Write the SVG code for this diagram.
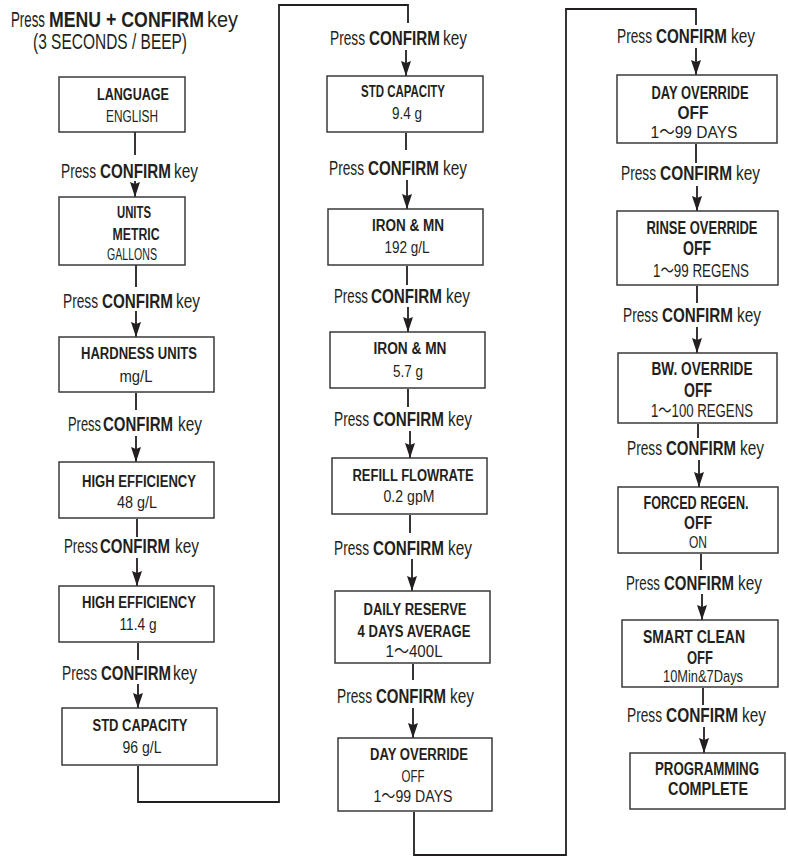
<svg xmlns="http://www.w3.org/2000/svg" width="788" height="858" viewBox="0 0 788 858">
<defs>
<marker id="ah" markerUnits="userSpaceOnUse" markerWidth="15" markerHeight="10" viewBox="0 0 15 10" refX="15" refY="5" orient="auto">
<path d="M0,0 L15,5 L0,10 L2,5 z" fill="#231f20"/>
</marker>
<style>
text{font-family:"Liberation Sans","Noto Sans CJK SC",Arial,sans-serif;fill:#231f20}
.box{fill:#fff;stroke:#3a3a3a;stroke-width:1.5}
.c{text-anchor:middle}
.b{font-weight:700}
.s17{font-size:17px}
.s18{font-size:18px}
.s19{font-size:19px}
.s20{font-size:20px}
.lbl{font-size:20px}
.ttl{font-size:22px}
.ln{fill:none;stroke:#231f20;stroke-width:1.8}
.ar{fill:none;stroke:#231f20;stroke-width:1.8;marker-end:url(#ah)}
</style>
</defs>
<rect width="788" height="858" fill="#fff"/>

<g id="title">
<text class="ttl" transform="translate(11,26.5) scale(.605,1)" textLength="56.2" lengthAdjust="spacingAndGlyphs">Press</text>
<text class="ttl b" transform="translate(49,26.5) scale(.805,1)" textLength="192.5" lengthAdjust="spacingAndGlyphs">MENU + CONFIRM</text>
<text class="ttl" transform="translate(207,26.5) scale(.906,1)" textLength="34.2" lengthAdjust="spacingAndGlyphs">key</text>
<text class="ttl" transform="translate(33,49) scale(.704,1)" textLength="218.8" lengthAdjust="spacingAndGlyphs">(3 SECONDS / BEEP)</text>
</g>

<g id="connectors">
<line class="ln" x1="135" y1="132" x2="135" y2="155"/>
<line class="ar" x1="135" y1="181" x2="135" y2="197"/>
<line class="ln" x1="136" y1="265" x2="136" y2="287"/>
<line class="ar" x1="136" y1="311" x2="136" y2="337"/>
<line class="ln" x1="136" y1="393" x2="136" y2="410"/>
<line class="ar" x1="136" y1="436" x2="136" y2="462"/>
<line class="ln" x1="137" y1="519" x2="137" y2="537"/>
<line class="ar" x1="137" y1="558" x2="137" y2="586"/>
<line class="ln" x1="138" y1="643" x2="138" y2="660"/>
<line class="ar" x1="138" y1="684" x2="138" y2="708"/>
<polyline class="ln" points="138,766 138,802 279,802 279,5 408,5 408,23"/>
<line class="ar" x1="406" y1="50" x2="406" y2="76"/>
<line class="ln" x1="406" y1="133" x2="406" y2="150"/>
<line class="ar" x1="407" y1="180" x2="407" y2="209"/>
<line class="ln" x1="407" y1="266" x2="407" y2="285"/>
<line class="ar" x1="408" y1="307" x2="408" y2="332"/>
<line class="ln" x1="408" y1="389" x2="408" y2="407"/>
<line class="ar" x1="410" y1="431" x2="410" y2="458"/>
<line class="ln" x1="410" y1="515" x2="410" y2="533"/>
<line class="ar" x1="412" y1="559" x2="412" y2="591"/>
<line class="ln" x1="413" y1="664" x2="413" y2="680"/>
<line class="ar" x1="413" y1="708" x2="413" y2="738"/>
<polyline class="ln" points="414,812 414,855 566,855 566,9 696,9 696,25"/>
<line class="ar" x1="696" y1="48" x2="696" y2="75"/>
<line class="ln" x1="696" y1="144" x2="696" y2="163"/>
<line class="ar" x1="697" y1="186" x2="697" y2="211"/>
<line class="ln" x1="697" y1="286" x2="697" y2="303"/>
<line class="ar" x1="697" y1="327" x2="697" y2="353"/>
<line class="ln" x1="698" y1="424" x2="698" y2="438"/>
<line class="ar" x1="699" y1="460" x2="699" y2="487"/>
<line class="ln" x1="701" y1="554" x2="701" y2="570"/>
<line class="ar" x1="702" y1="594" x2="702" y2="620"/>
<line class="ln" x1="703" y1="688" x2="703" y2="705"/>
<line class="ar" x1="704" y1="727" x2="704" y2="753"/>
</g>

<g id="labels">
<text class="lbl" transform="translate(61,178) scale(.685,1)" textLength="51.1" lengthAdjust="spacingAndGlyphs">Press</text>
<text class="lbl b" transform="translate(100,178) scale(.761,1)" textLength="93.3" lengthAdjust="spacingAndGlyphs">CONFIRM</text>
<text class="lbl" transform="translate(174,178) scale(.772,1)" textLength="31.1" lengthAdjust="spacingAndGlyphs">key</text>

<text class="lbl" transform="translate(63,308) scale(.685,1)" textLength="51.1" lengthAdjust="spacingAndGlyphs">Press</text>
<text class="lbl b" transform="translate(102,308) scale(.761,1)" textLength="93.3" lengthAdjust="spacingAndGlyphs">CONFIRM</text>
<text class="lbl" transform="translate(176,308) scale(.772,1)" textLength="31.1" lengthAdjust="spacingAndGlyphs">key</text>

<text class="lbl" transform="translate(68,431) scale(.646,1)" textLength="51.1" lengthAdjust="spacingAndGlyphs">Press</text>
<text class="lbl b" transform="translate(103,431) scale(.750,1)" textLength="93.3" lengthAdjust="spacingAndGlyphs">CONFIRM</text>
<text class="lbl" transform="translate(178,431) scale(.772,1)" textLength="31.1" lengthAdjust="spacingAndGlyphs">key</text>

<text class="lbl" transform="translate(64,553) scale(.665,1)" textLength="51.1" lengthAdjust="spacingAndGlyphs">Press</text>
<text class="lbl b" transform="translate(100,553) scale(.750,1)" textLength="93.3" lengthAdjust="spacingAndGlyphs">CONFIRM</text>
<text class="lbl" transform="translate(175,553) scale(.772,1)" textLength="31.1" lengthAdjust="spacingAndGlyphs">key</text>

<text class="lbl" transform="translate(62,680) scale(.685,1)" textLength="51.1" lengthAdjust="spacingAndGlyphs">Press</text>
<text class="lbl b" transform="translate(101,680) scale(.750,1)" textLength="93.3" lengthAdjust="spacingAndGlyphs">CONFIRM</text>
<text class="lbl" transform="translate(173,680) scale(.772,1)" textLength="31.1" lengthAdjust="spacingAndGlyphs">key</text>

<text class="lbl" transform="translate(330,45) scale(.685,1)" textLength="51.1" lengthAdjust="spacingAndGlyphs">Press</text>
<text class="lbl b" transform="translate(369,45) scale(.761,1)" textLength="93.3" lengthAdjust="spacingAndGlyphs">CONFIRM</text>
<text class="lbl" transform="translate(443,45) scale(.772,1)" textLength="31.1" lengthAdjust="spacingAndGlyphs">key</text>

<text class="lbl" transform="translate(329,175) scale(.685,1)" textLength="51.1" lengthAdjust="spacingAndGlyphs">Press</text>
<text class="lbl b" transform="translate(368,175) scale(.761,1)" textLength="93.3" lengthAdjust="spacingAndGlyphs">CONFIRM</text>
<text class="lbl" transform="translate(443,175) scale(.772,1)" textLength="31.1" lengthAdjust="spacingAndGlyphs">key</text>

<text class="lbl" transform="translate(334,303) scale(.665,1)" textLength="51.1" lengthAdjust="spacingAndGlyphs">Press</text>
<text class="lbl b" transform="translate(371,303) scale(.761,1)" textLength="93.3" lengthAdjust="spacingAndGlyphs">CONFIRM</text>
<text class="lbl" transform="translate(446,303) scale(.772,1)" textLength="31.1" lengthAdjust="spacingAndGlyphs">key</text>

<text class="lbl" transform="translate(334,426) scale(.685,1)" textLength="51.1" lengthAdjust="spacingAndGlyphs">Press</text>
<text class="lbl b" transform="translate(373,426) scale(.761,1)" textLength="93.3" lengthAdjust="spacingAndGlyphs">CONFIRM</text>
<text class="lbl" transform="translate(448,426) scale(.772,1)" textLength="31.1" lengthAdjust="spacingAndGlyphs">key</text>

<text class="lbl" transform="translate(334,555) scale(.685,1)" textLength="51.1" lengthAdjust="spacingAndGlyphs">Press</text>
<text class="lbl b" transform="translate(373,555) scale(.761,1)" textLength="93.3" lengthAdjust="spacingAndGlyphs">CONFIRM</text>
<text class="lbl" transform="translate(448,555) scale(.772,1)" textLength="31.1" lengthAdjust="spacingAndGlyphs">key</text>

<text class="lbl" transform="translate(337,703) scale(.685,1)" textLength="51.1" lengthAdjust="spacingAndGlyphs">Press</text>
<text class="lbl b" transform="translate(376,703) scale(.750,1)" textLength="93.3" lengthAdjust="spacingAndGlyphs">CONFIRM</text>
<text class="lbl" transform="translate(450,703) scale(.772,1)" textLength="31.1" lengthAdjust="spacingAndGlyphs">key</text>

<text class="lbl" transform="translate(617,43) scale(.685,1)" textLength="51.1" lengthAdjust="spacingAndGlyphs">Press</text>
<text class="lbl b" transform="translate(656,43) scale(.761,1)" textLength="93.3" lengthAdjust="spacingAndGlyphs">CONFIRM</text>
<text class="lbl" transform="translate(731,43) scale(.772,1)" textLength="31.1" lengthAdjust="spacingAndGlyphs">key</text>

<text class="lbl" transform="translate(621,180) scale(.685,1)" textLength="51.1" lengthAdjust="spacingAndGlyphs">Press</text>
<text class="lbl b" transform="translate(660,180) scale(.772,1)" textLength="93.3" lengthAdjust="spacingAndGlyphs">CONFIRM</text>
<text class="lbl" transform="translate(736,180) scale(.772,1)" textLength="31.1" lengthAdjust="spacingAndGlyphs">key</text>

<text class="lbl" transform="translate(623,322) scale(.685,1)" textLength="51.1" lengthAdjust="spacingAndGlyphs">Press</text>
<text class="lbl b" transform="translate(662,322) scale(.761,1)" textLength="93.3" lengthAdjust="spacingAndGlyphs">CONFIRM</text>
<text class="lbl" transform="translate(737,322) scale(.772,1)" textLength="31.1" lengthAdjust="spacingAndGlyphs">key</text>

<text class="lbl" transform="translate(627,455) scale(.685,1)" textLength="51.1" lengthAdjust="spacingAndGlyphs">Press</text>
<text class="lbl b" transform="translate(666,455) scale(.750,1)" textLength="93.3" lengthAdjust="spacingAndGlyphs">CONFIRM</text>
<text class="lbl" transform="translate(740,455) scale(.772,1)" textLength="31.1" lengthAdjust="spacingAndGlyphs">key</text>

<text class="lbl" transform="translate(626,590) scale(.665,1)" textLength="51.1" lengthAdjust="spacingAndGlyphs">Press</text>
<text class="lbl b" transform="translate(664,590) scale(.750,1)" textLength="93.3" lengthAdjust="spacingAndGlyphs">CONFIRM</text>
<text class="lbl" transform="translate(738,590) scale(.772,1)" textLength="31.1" lengthAdjust="spacingAndGlyphs">key</text>

<text class="lbl" transform="translate(627,722) scale(.685,1)" textLength="51.1" lengthAdjust="spacingAndGlyphs">Press</text>
<text class="lbl b" transform="translate(666,722) scale(.772,1)" textLength="93.3" lengthAdjust="spacingAndGlyphs">CONFIRM</text>
<text class="lbl" transform="translate(742,722) scale(.772,1)" textLength="31.1" lengthAdjust="spacingAndGlyphs">key</text>
</g>

<g id="n-language">
<rect class="box" x="59" y="77" width="126" height="55"/>
<text class="c b s17" transform="translate(133,100) scale(.74,1)" textLength="97.3" lengthAdjust="spacingAndGlyphs">LANGUAGE</text>
<text class="c s17" transform="translate(132,122) scale(.697,1)" textLength="74.6" lengthAdjust="spacingAndGlyphs">ENGLISH</text>
</g>
<g id="n-units">
<rect class="box" x="59" y="197" width="126" height="68"/>
<text class="c b s17" transform="translate(134,218) scale(.667,1)" textLength="51" lengthAdjust="spacingAndGlyphs">UNITS</text>
<text class="c b s17" transform="translate(136,240) scale(.721,1)" textLength="65.2" lengthAdjust="spacingAndGlyphs">METRIC</text>
<text class="c s17" transform="translate(132,260) scale(.623,1)" textLength="80.3" lengthAdjust="spacingAndGlyphs">GALLONS</text>
</g>
<g id="n-hardness">
<rect class="box" x="59" y="337" width="155" height="55"/>
<text class="c b s17" transform="translate(139,359) scale(.768,1)" textLength="151.1" lengthAdjust="spacingAndGlyphs">HARDNESS UNITS</text>
<text class="c s17" transform="translate(136,382) scale(.873,1)" textLength="37.8" lengthAdjust="spacingAndGlyphs">mg/L</text>
</g>
<g id="n-he-48">
<rect class="box" x="59" y="462" width="155" height="56"/>
<text class="c b s17" transform="translate(139,487) scale(.769,1)" textLength="148.3" lengthAdjust="spacingAndGlyphs">HIGH EFFICIENCY</text>
<text class="c s17" transform="translate(137,508) scale(.846,1)" textLength="47.3" lengthAdjust="spacingAndGlyphs">48 g/L</text>
</g>
<g id="n-he-11">
<rect class="box" x="59" y="586" width="155" height="56"/>
<text class="c b s17" transform="translate(139,608) scale(.769,1)" textLength="148.3" lengthAdjust="spacingAndGlyphs">HIGH EFFICIENCY</text>
<text class="c s17" transform="translate(138,630) scale(.782,1)" textLength="47.3" lengthAdjust="spacingAndGlyphs">11.4 g</text>
</g>
<g id="n-std-96">
<rect class="box" x="62" y="708" width="155" height="57"/>
<text class="c b s17" transform="translate(140,731) scale(.756,1)" textLength="125.6" lengthAdjust="spacingAndGlyphs">STD CAPACITY</text>
<text class="c s17" transform="translate(142,753) scale(.825,1)" textLength="47.3" lengthAdjust="spacingAndGlyphs">96 g/L</text>
</g>

<g id="n-std-94">
<rect class="box" x="327" y="76" width="156" height="56"/>
<text class="c b s17" transform="translate(403,97) scale(.669,1)" textLength="125.6" lengthAdjust="spacingAndGlyphs">STD CAPACITY</text>
<text class="c s17" transform="translate(407,119) scale(.794,1)" textLength="37.8" lengthAdjust="spacingAndGlyphs">9.4 g</text>
</g>
<g id="n-iron-192">
<rect class="box" x="328" y="209" width="155" height="56"/>
<text class="c b s17" transform="translate(408,231) scale(.794,1)" textLength="90.7" lengthAdjust="spacingAndGlyphs">IRON &amp; MN</text>
<text class="c s17" transform="translate(407,253) scale(.794,1)" textLength="56.7" lengthAdjust="spacingAndGlyphs">192 g/L</text>
</g>
<g id="n-iron-57">
<rect class="box" x="330" y="332" width="155" height="56"/>
<text class="c b s17" transform="translate(410,354) scale(.805,1)" textLength="90.7" lengthAdjust="spacingAndGlyphs">IRON &amp; MN</text>
<text class="c s17" transform="translate(408,377) scale(.794,1)" textLength="37.8" lengthAdjust="spacingAndGlyphs">5.7 g</text>
</g>
<g id="n-refill">
<rect class="box" x="332" y="458" width="155" height="56"/>
<text class="c b s17" transform="translate(413,481) scale(.754,1)" textLength="160.5" lengthAdjust="spacingAndGlyphs">REFILL FLOWRATE</text>
<text class="c s17" transform="translate(409,502) scale(.83,1)" textLength="61.4" lengthAdjust="spacingAndGlyphs">0.2 gpM</text>
</g>
<g id="n-daily">
<rect class="box" x="335" y="591" width="155" height="72"/>
<text class="c b s17" transform="translate(415,615) scale(.752,1)" textLength="137" lengthAdjust="spacingAndGlyphs">DAILY RESERVE</text>
<text class="c b s17" transform="translate(414,637) scale(.752,1)" textLength="150.2" lengthAdjust="spacingAndGlyphs">4 DAYS AVERAGE</text>
<text class="c s17" transform="translate(414,657) scale(.887,1)" textLength="64.3" lengthAdjust="spacingAndGlyphs">1～400L</text>
</g>
<g id="n-day-2">
<rect class="box" x="338" y="738" width="154" height="73"/>
<text class="c b s17" transform="translate(419,760) scale(.757,1)" textLength="129.4" lengthAdjust="spacingAndGlyphs">DAY OVERRIDE</text>
<text class="c s17" transform="translate(413,782) scale(.676,1)" textLength="34" lengthAdjust="spacingAndGlyphs">OFF</text>
<text class="c s17" transform="translate(413,802) scale(.82,1)" textLength="96.4" lengthAdjust="spacingAndGlyphs">1～99 DAYS</text>
</g>

<g id="n-day-3">
<rect class="box" x="617" y="75" width="160" height="68"/>
<text class="c b s18" transform="translate(700,99) scale(.708,1)" textLength="137" lengthAdjust="spacingAndGlyphs">DAY OVERRIDE</text>
<text class="c b s18" transform="translate(693,119) scale(.861,1)" textLength="36" lengthAdjust="spacingAndGlyphs">OFF</text>
<text class="c s17" transform="translate(694,138) scale(.902,1)" textLength="96.4" lengthAdjust="spacingAndGlyphs">1～99 DAYS</text>
</g>
<g id="n-rinse">
<rect class="box" x="617" y="211" width="161" height="74"/>
<text class="c b s18" transform="translate(702,234) scale(.721,1)" textLength="154" lengthAdjust="spacingAndGlyphs">RINSE OVERRIDE</text>
<text class="c b s20" transform="translate(697,255) scale(.70,1)" textLength="40" lengthAdjust="spacingAndGlyphs">OFF</text>
<text class="c s18" transform="translate(701,277) scale(.744,1)" textLength="129" lengthAdjust="spacingAndGlyphs">1～99 REGENS</text>
</g>
<g id="n-bw">
<rect class="box" x="618" y="353" width="159" height="70"/>
<text class="c b s18" transform="translate(702,375) scale(.754,1)" textLength="134" lengthAdjust="spacingAndGlyphs">BW.  OVERRIDE</text>
<text class="c b s20" transform="translate(698,397) scale(.70,1)" textLength="40" lengthAdjust="spacingAndGlyphs">OFF</text>
<text class="c s18" transform="translate(702,417) scale(.734,1)" textLength="139" lengthAdjust="spacingAndGlyphs">1～100 REGENS</text>
</g>
<g id="n-forced">
<rect class="box" x="618" y="487" width="160" height="66"/>
<text class="c b s18" transform="translate(696,509) scale(.70,1)" textLength="150" lengthAdjust="spacingAndGlyphs">FORCED REGEN.</text>
<text class="c b s19" transform="translate(698,529) scale(.737,1)" textLength="38" lengthAdjust="spacingAndGlyphs">OFF</text>
<text class="c s17" transform="translate(698,548) scale(.706,1)" textLength="25.5" lengthAdjust="spacingAndGlyphs">ON</text>
</g>
<g id="n-smart">
<rect class="box" x="622" y="620" width="156" height="67"/>
<text class="c b s18" transform="translate(694,643) scale(.779,1)" textLength="131" lengthAdjust="spacingAndGlyphs">SMART CLEAN</text>
<text class="c b s18" transform="translate(700,664) scale(.722,1)" textLength="36" lengthAdjust="spacingAndGlyphs">OFF</text>
<text class="c s17" transform="translate(703,682) scale(.756,1)" textLength="105.8" lengthAdjust="spacingAndGlyphs">10Min&amp;7Days</text>
</g>
<g id="n-complete">
<rect class="box" x="630" y="753" width="155" height="56"/>
<text class="c b s18" transform="translate(707,775) scale(.738,1)" textLength="141" lengthAdjust="spacingAndGlyphs">PROGRAMMING</text>
<text class="c b s18" transform="translate(708,795) scale(.80,1)" textLength="100" lengthAdjust="spacingAndGlyphs">COMPLETE</text>
</g>
</svg>
